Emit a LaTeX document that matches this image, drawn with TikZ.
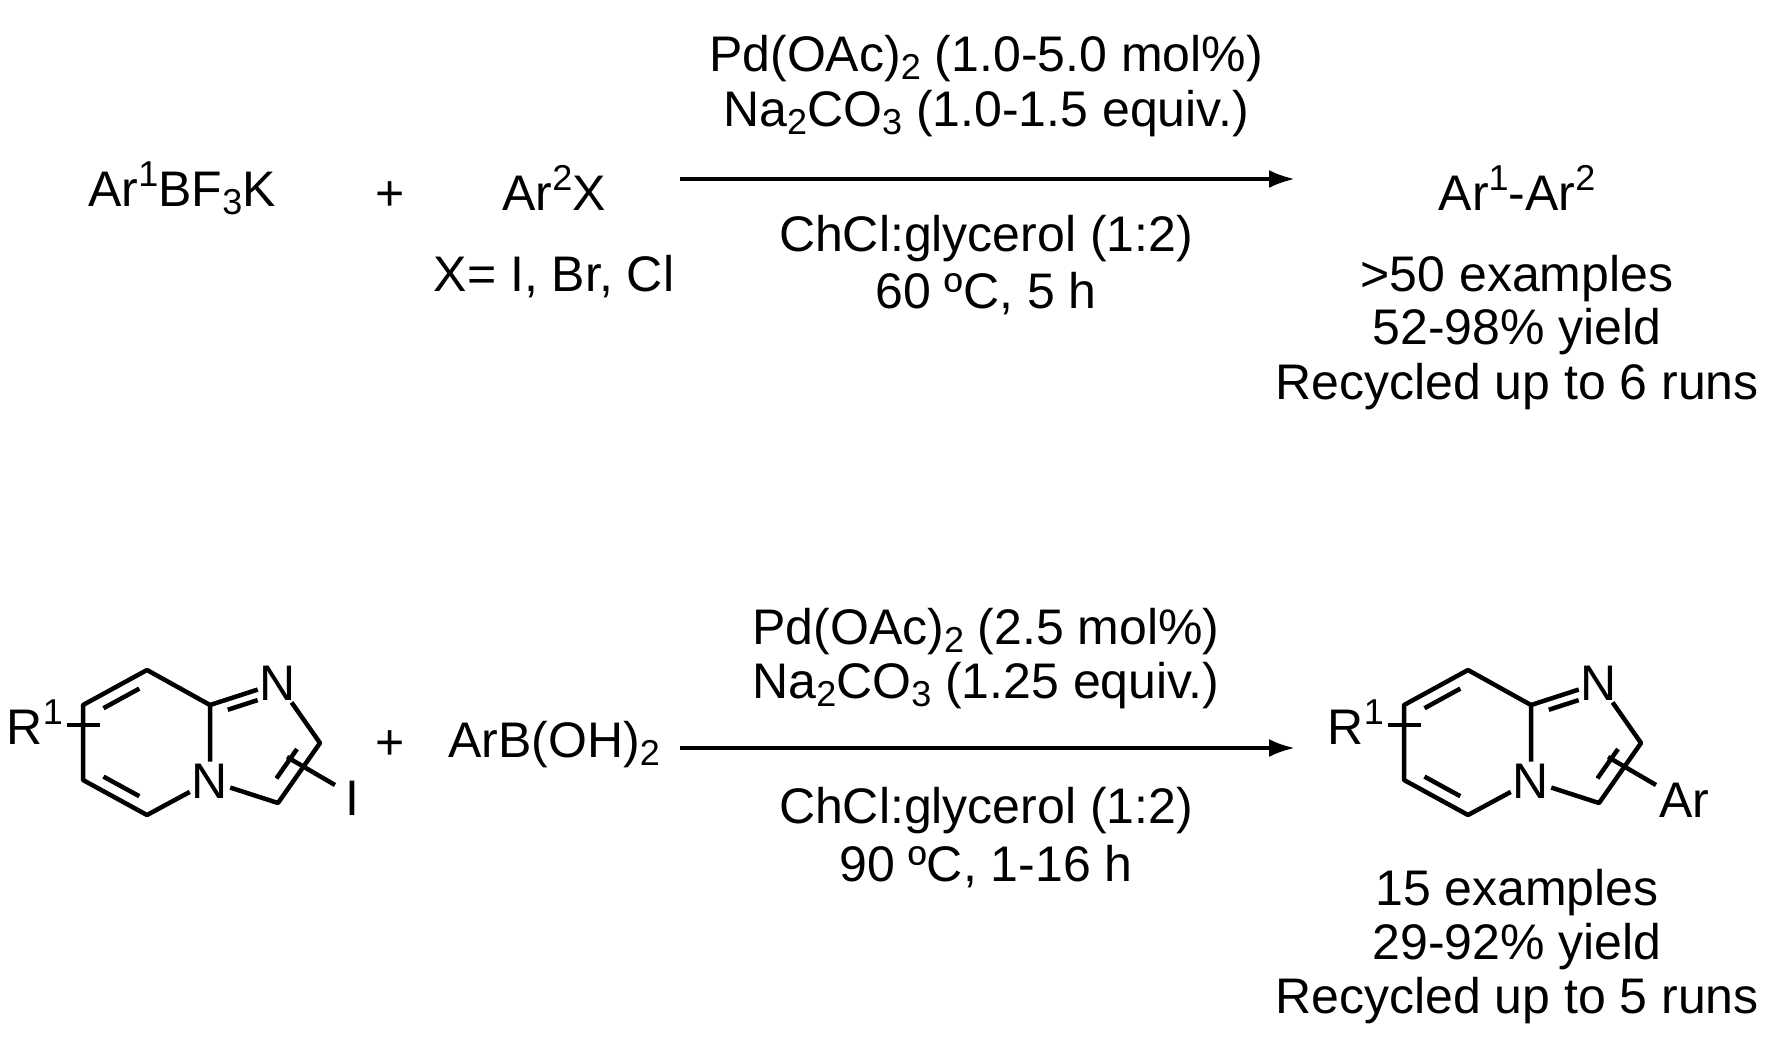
\documentclass[tikz,border=0pt]{standalone}
\usepackage{fontspec}
\setmainfont{Liberation Sans}
\usetikzlibrary{calc,arrows.meta}
\newcommand\mysb[1]{\raisebox{-0.3ex}{\fontsize{36}{36}\selectfont #1}}
\newcommand\mysp[1]{\raisebox{0.75ex}{\fontsize{36}{36}\selectfont #1}}
\tikzset{txt/.style={font=\fontsize{50}{58}\selectfont,inner sep=0pt},
 bond/.style={line width=4.5pt},
 atom/.style={font=\fontsize{50}{58}\selectfont,inner sep=2pt},
 rxn/.style={line width=4pt,-{Latex[length=26pt,width=18pt]}}}
\begin{document}
\begin{tikzpicture}[x=1pt,y=1pt]
\useasboundingbox (0,0) rectangle (1776,-1037);
% top reaction
\node[txt] (a1) at (182,-188) {Ar\mysp{1}BF\mysb{3}K};
\node[txt] (p1) at (390,-196) {+};
\node[txt] (a2) at (554,-188) {Ar\mysp{2}X};
\node[txt] (x) at (554,-277) {X= I, Br, Cl};
\coordinate (s1) at (680,-179); \coordinate (e1) at (1295,-179);
\draw[rxn] (s1) -- (e1);
\node[txt] (c1) at (986,-59) {Pd(OAc)\mysb{2} (1.0-5.0 mol\%)};
\node[txt] (c2) at (986,-114) {Na\mysb{2}CO\mysb{3} (1.0-1.5 equiv.)};
\node[txt] (c3) at (986,-239) {ChCl:glycerol (1:2)};
\node[txt] (c4) at (986,-294) {60 ºC, 5 h};
\node[txt] (pr) at (1517,-188) {Ar\mysp{1}-Ar\mysp{2}};
\node[txt] (r1) at (1517,-279) {>50 examples};
\node[txt] (r2) at (1517,-332) {52-98\% yield};
\node[txt] (r3) at (1517,-387) {Recycled up to 6 runs};
% bottom reaction
\node[txt] (p2) at (390,-745) {+};
\node[txt] (bo) at (554,-745) {ArB(OH)\mysb{2}};
\coordinate (s2) at (680,-748); \coordinate (e2) at (1295,-748);
\draw[rxn] (s2) -- (e2);
\node[txt] (d1) at (986,-632) {Pd(OAc)\mysb{2} (2.5 mol\%)};
\node[txt] (d2) at (986,-686) {Na\mysb{2}CO\mysb{3} (1.25 equiv.)};
\node[txt] (d3) at (986,-811) {ChCl:glycerol (1:2)};
\node[txt] (d4) at (986,-867) {90 ºC, 1-16 h};
\node[txt] (q1) at (1517,-893) {15 examples};
\node[txt] (q2) at (1517,-947) {29-92\% yield};
\node[txt] (q3) at (1517,-1001) {Recycled up to 5 runs};
% molecules
\foreach \p/\dx in {m/0, n/1321}{
\begin{scope}[shift={(\dx,0)}]
\coordinate (\p T) at (147,-670); \coordinate (\p UL) at (83,-705);
\coordinate (\p LL) at (83,-780); \coordinate (\p B) at (147,-815);
\node[atom] (\p N4) at (210,-781) {N};
\coordinate (\p C8) at (210,-705);
\node[atom] (\p N1) at (278,-683) {N};
\coordinate (\p C2) at (320,-743); \coordinate (\p C3) at (278,-803);
\coordinate (\p H) at (147,-742); \coordinate (\p F) at (258,-742);
\draw[bond,line join=round] (\p C8) -- (\p T) -- (\p UL) -- (\p LL) -- (\p B) -- (\p N4) -- (\p C8) -- (\p N1) -- (\p C2) -- (\p C3) -- (\p N4);
\draw[bond] ($(\p UL)!.15!(\p T)!.2!(\p H)$) -- ($(\p T)!.15!(\p UL)!.2!(\p H)$);
\draw[bond] ($(\p LL)!.15!(\p B)!.2!(\p H)$) -- ($(\p B)!.15!(\p LL)!.2!(\p H)$);
\draw[bond] ($(\p C8)!.15!(\p N1)!.2!(\p F)$) -- ($(\p C8)!.7!(\p N1)!.2!(\p F)$);
\draw[bond] ($(\p C2)!.15!(\p C3)!.3!(\p F)$) -- ($(\p C3)!.15!(\p C2)!.3!(\p F)$);
\coordinate (\p Ra) at (67,-725); \coordinate (\p Rb) at (100,-725);
\draw[bond] (\p Ra) -- (\p Rb);
\node[txt,anchor=east] (\p R) at (63,-722) {R\mysp{1}};
\coordinate (\p Xa) at (287,-757); \coordinate (\p Xb) at (335,-785);
\draw[bond] (\p Xa) -- (\p Xb);
\end{scope}}
\node[txt] (mI) at (352,-798) {I};
\node[txt] (nAr) at (1684,-800) {Ar};
\end{tikzpicture}
\end{document}
